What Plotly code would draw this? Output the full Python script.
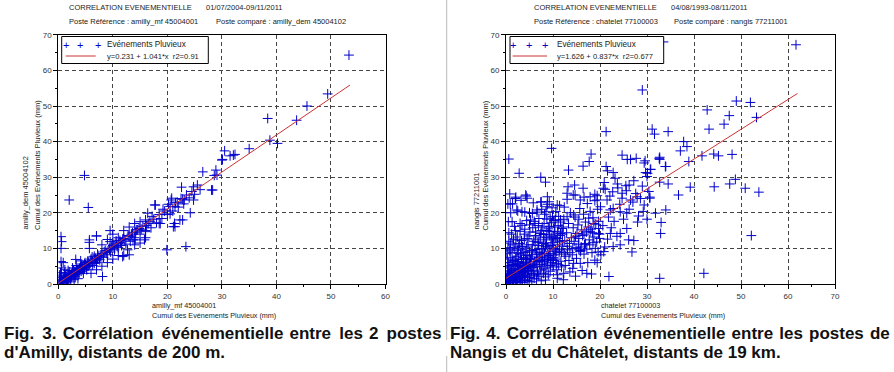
import plotly.graph_objects as go

W, H = 894, 372

# ---------------- DATA ----------------
axis_ticks = [0, 10, 20, 30, 40, 50, 60, 70]

# Fig.3 Amilly (x: amilly_mf 45004001, y: amilly_dem 45004102)
amilly_low = [
    (0.3, 0.5), (0.5, 1.2), (0.8, 0.4), (1.0, 1.5), (1.2, 0.8), (1.5, 2.0), (1.7, 1.1), (2.0, 2.5),
    (2.2, 1.6), (2.5, 3.0), (2.7, 2.2), (3.0, 3.5), (3.2, 2.6), (3.5, 4.0), (3.8, 3.1), (4.0, 4.6),
    (4.2, 3.6), (4.5, 5.0), (4.8, 4.2), (5.0, 5.5), (0.2, 2.5), (0.4, 3.2), (0.6, 2.0), (1.1, 3.0),
    (1.4, 0.3), (2.3, 0.6), (2.9, 1.2), (3.6, 1.5), (1.8, 3.8), (2.6, 4.5), (3.3, 5.2), (4.1, 6.5),
    (4.6, 3.0), (5.2, 4.0), (0.9, 6.0), (0.5, 6.3), (0.6, 4.5), (1.3, 2.2), (1.9, 1.4), (2.4, 2.0),
    (3.1, 2.0), (3.9, 4.0), (4.4, 4.4), (5.4, 5.0), (0.2, 0.2), (0.7, 0.9), (1.6, 1.4), (2.1, 3.4),
    (3.2, 6.9), (2.8, 3.8), (3.4, 3.0), (4.3, 5.6), (4.9, 6.0), (5.6, 5.0), (0.4, 1.8), (1.2, 4.0),
]
amilly_core = [
    (0.3, 1.0), (0.6, 0.7), (0.9, 1.3), (1.2, 1.9), (1.5, 1.2), (1.8, 2.4), (2.1, 1.9), (2.4, 2.7),
    (2.7, 3.2), (3.0, 2.5), (3.3, 3.9), (3.6, 3.3), (3.9, 4.3), (4.2, 4.9), (4.5, 4.0), (4.8, 5.6),
    (5.1, 4.7), (5.4, 6.3), (5.7, 5.6), (6.0, 7.0), (6.3, 6.2), (6.6, 7.8), (6.9, 6.5), (7.2, 8.4),
    (7.5, 7.3),
]
amilly_band = [
    (5.5, 6.0), (6.0, 6.5), (6.3, 5.2), (6.8, 7.2), (7.0, 6.0), (7.3, 8.0), (7.6, 6.8), (8.0, 8.6),
    (8.3, 7.5), (8.6, 9.4), (9.0, 8.2), (9.3, 10.0), (9.6, 9.0), (10.0, 10.8), (10.3, 9.6), (10.6, 11.5),
    (11.0, 10.2), (11.3, 12.2), (11.6, 10.8), (12.0, 12.8), (12.4, 11.2), (12.8, 13.6), (13.2, 12.0),
    (13.6, 14.4), (14.0, 13.0), (14.5, 15.2), (15.0, 14.0), (15.5, 16.2), (16.0, 15.0), (16.5, 17.0),
    (17.0, 15.8), (17.5, 18.2), (18.0, 17.2), (18.5, 19.5), (19.0, 18.4), (19.5, 20.5), (20.0, 19.5),
    (20.5, 21.8), (21.0, 20.5), (21.5, 22.8), (22.0, 21.6), (22.5, 24.0), (23.0, 22.5), (23.5, 25.0),
    (24.0, 24.2), (24.5, 26.0), (25.0, 25.2), (25.5, 27.8), (26.0, 26.5),
    (6.2, 7.6), (6.6, 5.8), (7.2, 7.0), (7.8, 7.8), (8.4, 9.0), (8.8, 8.8), (9.4, 9.6), (9.8, 10.4),
    (10.2, 11.2), (10.8, 10.6), (11.4, 11.6), (11.8, 12.6), (12.2, 12.4), (13.0, 13.4), (13.4, 14.0),
    (14.2, 14.6), (14.8, 15.6), (15.2, 15.4), (16.2, 16.4), (16.8, 17.6), (7.0, 13.5), (8.0, 11.0),
    (9.0, 12.5), (10.0, 14.0), (11.0, 13.0), (12.0, 15.0), (13.0, 16.0), (14.0, 17.0), (15.0, 17.5),
    (16.0, 18.0), (6.0, 3.0), (7.0, 4.0), (8.0, 5.0), (9.0, 6.0), (10.0, 7.0), (11.0, 8.0), (12.0, 8.0),
    (13.0, 8.2), (14.0, 11.0), (15.0, 11.5), (16.0, 13.0), (8.1, 2.1), (11.8, 7.7), (12.7, 9.6),
    (13.7, 12.4), (14.3, 15.2), (15.8, 12.4), (16.0, 14.7), (16.4, 19.9), (17.8, 22.2), (18.5, 17.0),
    (5.7, 12.4), (5.7, 11.7), (7.0, 13.5), (9.5, 15.0), (10.6, 12.1), (5.7, 10.0), (9.5, 11.9),
    (14.1, 12.4), (18.7, 17.0), (17.2, 19.0), (19.2, 21.0), (20.2, 22.4), (21.8, 23.0), (22.8, 23.8),
]
amilly_high = [
    (53.3, 64.3), (49.4, 53.4), (45.6, 50.0), (43.7, 46.0), (38.4, 46.5), (38.8, 40.4), (40.2, 39.5),
    (35.0, 38.0), (30.5, 37.4), (30.1, 35.0), (31.5, 36.0), (32.1, 36.2), (32.4, 36.4), (28.9, 32.0),
    (28.6, 30.5), (28.3, 26.4), (26.5, 31.5), (4.8, 30.5), (2.0, 23.6), (5.5, 21.5), (0.5, 13.3),
    (0.6, 11.9), (0.5, 10.0), (21.1, 16.1), (19.9, 9.6), (23.4, 10.5), (17.7, 22.2), (22.6, 27.2),
    (24.8, 27.3), (24.8, 23.6), (23.1, 23.6), (20.8, 24.1), (21.4, 21.7), (20.5, 19.7), (22.3, 18.0),
    (21.3, 17.0), (21.4, 16.1), (22.8, 18.0), (24.2, 20.0), (28.1, 26.4), (29.1, 30.6), (30.0, 34.8),
    (20.7, 23.6),
]
amilly_line_x = [0.0, 53.5]
amilly_line_y = [0.23, 55.9]

# Fig.4 Nangis / Châtelet (x: chatelet 77100003, y: nangis 77211001)
nangis_dense = [
    (0.2, 0.3), (0.4, 1.1), (0.6, 0.5), (0.8, 1.8), (1.0, 0.9), (1.2, 2.6), (1.4, 1.4), (1.6, 0.4),
    (1.8, 3.2), (2.0, 1.9), (2.2, 0.8), (2.4, 2.9), (2.6, 4.1), (2.8, 1.5), (3.0, 3.6), (3.2, 0.6),
    (3.4, 2.4), (3.6, 5.0), (3.8, 3.1), (4.0, 1.2), (4.2, 4.4), (4.4, 6.2), (4.6, 2.2), (4.8, 3.8),
    (5.0, 5.6), (0.3, 4.5), (0.5, 6.0), (0.7, 3.0), (0.9, 7.5), (1.1, 5.2), (1.3, 8.8), (1.5, 4.0),
    (1.7, 6.6), (1.9, 10.2), (2.1, 5.5), (2.3, 7.8), (2.5, 9.5), (2.7, 6.3), (2.9, 11.4), (3.1, 8.2),
    (3.3, 6.9), (3.5, 10.5), (3.7, 7.4), (3.9, 12.6), (4.1, 9.0), (4.3, 5.6), (4.5, 8.0), (4.7, 11.0),
    (4.9, 13.5), (5.1, 7.1), (5.3, 2.5), (5.5, 9.4), (5.7, 4.6), (5.9, 12.0), (6.1, 6.3), (6.3, 14.6),
    (6.5, 8.4), (6.7, 3.4), (6.9, 10.8), (7.1, 5.5), (7.3, 13.2), (7.5, 7.6), (7.7, 16.0), (7.9, 9.8),
    (8.1, 4.2), (8.3, 12.4), (8.5, 6.8), (8.7, 15.0), (8.9, 10.4), (9.1, 8.0), (9.3, 13.8), (9.5, 5.2),
    (9.7, 17.2), (9.9, 11.6), (10.1, 7.4), (10.3, 14.8), (10.5, 9.6), (10.7, 4.0), (10.9, 12.8),
    (11.1, 16.4), (11.3, 8.8), (11.5, 13.6), (11.7, 6.4), (11.9, 15.6), (12.1, 10.6), (12.3, 18.2),
    (12.5, 12.2), (12.7, 7.8), (12.9, 14.4), (13.1, 9.6), (13.3, 17.0), (13.5, 11.4), (13.7, 20.0),
    (13.9, 13.0), (14.1, 8.2), (14.3, 15.8), (14.5, 12.0), (14.7, 18.8), (14.9, 10.2), (15.1, 14.2),
    (15.3, 16.6), (15.5, 12.8), (15.7, 21.2), (15.9, 9.4), (16.1, 15.2), (16.3, 13.6), (16.5, 19.6),
    (16.7, 11.0), (16.9, 17.4), (17.1, 14.6), (17.3, 22.6), (17.5, 16.0), (17.7, 12.4), (17.9, 20.4),
    (18.1, 15.4), (18.3, 8.8), (18.5, 18.6), (18.7, 13.2), (18.9, 23.4), (19.1, 16.8), (19.3, 11.8),
    (19.5, 21.0), (19.7, 17.6), (19.9, 14.0),
    (0.1, 1.5), (0.3, 2.2), (0.5, 3.4), (0.7, 1.0), (0.9, 2.6), (1.1, 3.8), (1.3, 1.7), (1.5, 5.5),
    (1.7, 2.3), (1.9, 4.3), (2.1, 3.0), (2.3, 1.1), (2.5, 5.8), (2.7, 3.4), (2.9, 2.0), (3.1, 4.9),
    (3.3, 3.9), (3.5, 1.8), (3.7, 6.0), (3.9, 4.5), (4.1, 2.8), (4.3, 7.2), (4.5, 3.6), (4.7, 5.3),
    (4.9, 0.8), (5.2, 6.8), (5.4, 3.7), (5.6, 8.2), (5.8, 5.1), (6.0, 1.6), (6.2, 9.7), (6.4, 4.8),
    (6.6, 7.0), (6.8, 2.6), (7.0, 11.8), (7.2, 8.8), (7.4, 3.9), (7.6, 10.0), (7.8, 6.2), (8.0, 13.9),
    (8.2, 8.6), (8.4, 2.0), (8.6, 11.2), (8.8, 7.0), (9.0, 15.5), (9.2, 9.2), (9.4, 3.6), (9.6, 12.9),
    (9.8, 6.0), (10.0, 10.0), (10.2, 17.8), (10.4, 8.2), (10.6, 13.0), (10.8, 5.8), (11.0, 11.0),
    (11.2, 19.0), (11.4, 9.8), (11.6, 14.2), (11.8, 4.8), (12.0, 12.0),
    (0.2, 8.5), (0.4, 10.2), (0.6, 12.0), (0.8, 9.3), (1.0, 11.5), (1.2, 14.0), (1.6, 12.6), (2.0, 15.0),
    (2.4, 13.2), (3.0, 14.8), (3.4, 16.5), (4.0, 15.4), (4.4, 17.8), (5.0, 16.6), (5.6, 19.8), (6.0, 17.6),
    (6.6, 20.2), (7.0, 18.4), (7.6, 21.0), (8.2, 19.6), (0.5, 17.5), (1.0, 20.0), (1.4, 22.5), (2.5, 20.5),
    (3.2, 23.5), (4.0, 20.2), (0.4, 22.5), (2.0, 24.0), (5.8, 22.8), (7.4, 23.0), (8.8, 22.4), (9.8, 21.4),
    (10.6, 20.4), (11.4, 22.0), (12.4, 21.6), (13.0, 23.8),
    (12.6, 5.2), (13.4, 6.6), (14.2, 4.4), (15.0, 7.2), (15.8, 5.8), (16.6, 8.4), (17.4, 6.0), (14.8, 2.2),
    (13.6, 3.4), (16.2, 3.8), (12.2, 1.2), (11.0, 2.6), (19.4, 6.0), (20.2, 8.2), (21.0, 10.4), (21.6, 12.6),
    (22.4, 15.8), (23.0, 17.6), (23.6, 13.4), (21.8, 18.8), (20.6, 16.4), (22.8, 21.2), (24.2, 22.4),
    (25.0, 18.2), (26.2, 21.0), (27.0, 23.0), (27.6, 25.4), (28.6, 24.0), (25.6, 26.2), (23.8, 27.0),
    (29.4, 22.2), (28.0, 17.4), (27.2, 12.2), (26.8, 9.0), (29.2, 20.4), (30.4, 26.0), (30.0, 30.2),
]
nangis_core = [
    (0.5, 0.8), (1.0, 0.3), (1.5, 1.0), (2.0, 0.5), (2.5, 1.3), (3.0, 0.9), (3.5, 0.4), (4.0, 2.0),
    (4.5, 1.0), (5.0, 1.8), (5.5, 0.6), (6.0, 2.8), (6.5, 1.4), (7.0, 2.2), (7.5, 0.9), (8.0, 3.0),
    (8.5, 4.5), (9.0, 2.6), (9.5, 7.0), (10.0, 4.8), (0.6, 2.8), (1.2, 3.4), (1.8, 2.0), (2.4, 4.8),
    (3.0, 5.2), (3.6, 3.4), (4.2, 6.8), (4.8, 4.8), (5.4, 7.6), (6.0, 5.6), (6.6, 9.0), (7.2, 6.6),
    (7.8, 8.2), (8.4, 10.6), (9.0, 7.6), (9.6, 10.8), (10.2, 12.4), (10.8, 9.2), (11.4, 11.8), (12.0, 14.0),
    (0.8, 5.0), (1.4, 6.2), (2.0, 7.0), (2.6, 8.6), (3.2, 9.8), (3.8, 8.8), (4.4, 10.4), (5.0, 9.0),
    (5.6, 11.0), (6.2, 12.6), (6.8, 11.6), (7.4, 14.2), (8.0, 11.4), (8.6, 13.0), (9.2, 14.8), (9.8, 13.4),
    (10.4, 16.0), (11.0, 14.6), (11.6, 17.4), (12.2, 16.0), (0.3, 7.0), (0.9, 9.8), (1.5, 11.0), (2.1, 12.4),
    (2.7, 10.6), (3.3, 12.2), (3.9, 14.0), (4.5, 12.8), (5.1, 14.6), (5.7, 15.8), (6.3, 13.6), (6.9, 16.4),
    (7.5, 15.0), (8.1, 17.0), (8.7, 18.2), (9.3, 16.2), (9.9, 19.0), (10.5, 18.0), (0.6, 14.4), (1.8, 16.2),
    (2.2, 2.2), (2.8, 2.8), (3.4, 4.6), (4.0, 3.4), (4.6, 4.0), (5.2, 5.2), (5.8, 3.0), (6.4, 6.2),
    (7.0, 7.4), (7.6, 5.0), (8.2, 6.4), (8.8, 5.6), (9.4, 8.6), (10.0, 6.6), (10.6, 7.0), (11.2, 5.4),
    (11.8, 9.0), (12.4, 8.4), (13.0, 10.6), (13.6, 8.8), (14.2, 10.0), (14.8, 13.4), (15.4, 11.2),
    (16.0, 10.4), (16.6, 14.0), (17.2, 9.8), (17.8, 11.0), (18.4, 14.4), (19.0, 10.0), (19.6, 9.0),
]
nangis_scatter = [
    (0.8, 25.3), (2.0, 24.1), (4.3, 24.7), (4.5, 24.1), (0.9, 22.5), (2.3, 20.8), (3.4, 20.3),
    (5.0, 20.0), (6.6, 20.8), (7.5, 23.1), (9.2, 23.1), (10.9, 22.2), (8.7, 21.7), (8.5, 20.3),
    (1.3, 17.5), (3.0, 17.0), (5.2, 18.0), (6.2, 17.0), (9.4, 18.5), (11.6, 18.0), (13.0, 18.9),
    (14.4, 19.4), (15.5, 18.2), (17.6, 18.5), (18.7, 17.0), (13.0, 25.5), (14.7, 25.0), (15.8, 23.6),
    (17.9, 24.5), (19.4, 23.6), (21.5, 23.6), (21.1, 26.6), (22.7, 25.9), (24.7, 24.1), (26.5, 23.6),
    (20.1, 21.7), (22.2, 20.8), (24.3, 20.3), (25.7, 19.9), (28.2, 19.1), (25.7, 15.6), (24.3, 14.2),
    (22.2, 14.2), (19.9, 12.8), (20.8, 9.1), (22.8, 10.5), (24.3, 11.0), (26.1, 12.4), (18.9, 6.7),
    (17.2, 3.0), (18.2, 2.8), (21.9, 2.1), (19.7, 14.2), (18.5, 11.6), (16.9, 11.4), (15.5, 9.6),
    (15.8, 9.1), (14.4, 5.8), (12.3, 3.0), (10.9, 1.6), (8.4, 1.1), (19.7, 15.6), (17.9, 14.8),
    (29.0, 54.5), (21.3, 42.8), (9.7, 38.1), (0.6, 35.1), (18.1, 36.5), (17.7, 34.4), (16.4, 33.1),
    (13.3, 32.0), (2.8, 31.1), (7.4, 30.0), (8.4, 28.6), (21.3, 33.0), (21.6, 31.8), (22.8, 31.3),
    (24.7, 36.2), (25.8, 35.0), (26.5, 35.0), (27.7, 35.3), (29.6, 34.6), (29.4, 34.0), (30.8, 32.2),
    (29.7, 31.3), (30.1, 31.1), (23.2, 29.7), (20.9, 28.5), (23.7, 28.1), (27.2, 29.0), (26.2, 27.8),
    (25.5, 27.6), (29.0, 27.5), (13.2, 27.3), (14.6, 27.8), (16.4, 26.9), (20.7, 26.9), (14.3, 25.0),
    (16.6, 24.4), (2.1, 24.4), (4.2, 25.0), (8.8, 24.5), (18.9, 25.2), (19.4, 24.8), (22.1, 24.7),
    (24.7, 25.5), (27.9, 24.5), (30.6, 24.4),
    (49.0, 51.4), (42.8, 48.9), (47.5, 47.3), (46.4, 44.9), (53.3, 46.8), (43.2, 43.5), (31.1, 43.5),
    (31.6, 42.1), (34.5, 42.8), (37.8, 40.0), (38.5, 38.6), (37.1, 37.4), (41.7, 36.0), (44.2, 36.5),
    (45.2, 36.0), (48.1, 36.4), (38.9, 34.4), (32.7, 35.6), (32.7, 35.0), (33.9, 33.0), (30.7, 32.2),
    (32.7, 28.6), (34.5, 28.1), (39.2, 27.2), (44.3, 27.3), (47.6, 28.1), (48.8, 29.4), (50.9, 26.9),
    (53.8, 25.8), (36.7, 25.0), (30.6, 24.1), (34.0, 20.8), (31.8, 19.9), (33.0, 17.3), (32.9, 14.2),
    (52.2, 13.6), (42.1, 3.0), (32.7, 1.6), (30.0, 18.2), (34.0, 33.0), (32.6, 35.3), (61.7, 67.2),
    (32.0, 68.0), (33.5, 68.0), (52.0, 51.0),
]
nangis_line_x = [0.0, 62.0]
nangis_line_y = [1.6, 53.5]

titles_left = ["CORRELATION EVENEMENTIELLE", "01/07/2004-09/11/2011",
               "Poste Référence : amilly_mf 45004001", "Poste comparé : amilly_dem 45004102"]
titles_right = ["CORRELATION EVENEMENTIELLE", "04/08/1993-08/11/2011",
                "Poste Référence : chatelet 77100003", "Poste comparé : nangis 77211001"]
legend_left = ["Evénements Pluvieux", "y=0.231 + 1.041*x  r2=0.91"]
legend_right = ["Evénements Pluvieux", "y=1.626 + 0.837*x  r2=0.677"]
xlabel_left = ["amilly_mf 45004001", "Cumul des Evénements Pluvieux (mm)"]
ylabel_left = ["amilly_dem 45004102", "Cumul des Evénements Pluvieux (mm)"]
xlabel_right = ["chatelet 77100003", "Cumul des Evénements Pluvieux (mm)"]
ylabel_right = ["nangis 77211001", "Cumul des Evénements Pluvieux (mm)"]
caption_left = ["Fig. 3. Corrélation événementielle entre les 2 postes", "d'Amilly, distants de 200 m."]
caption_right = ["Fig. 4. Corrélation événementielle entre les postes de", "Nangis et du Châtelet, distants de 19 km."]

# ---------------- FIGURE ----------------
def px(x):
    return x / W

def py(y):
    return 1 - y / H

BLUE = "rgb(0,0,205)"
RED = "rgb(205,50,50)"
FONT = "Liberation Sans"

fig = go.Figure()

def add_scatter(points, xa, ya):
    fig.add_trace(go.Scatter(
        x=[p[0] for p in points], y=[p[1] for p in points], mode="markers",
        xaxis=xa, yaxis=ya,
        marker=dict(symbol="cross-thin", size=7, line=dict(width=1, color=BLUE)),
        hoverinfo="skip"))

for pts in (amilly_low, amilly_core, amilly_band, amilly_high):
    add_scatter(pts, "x", "y")
fig.add_trace(go.Scatter(x=amilly_line_x, y=amilly_line_y, mode="lines", xaxis="x", yaxis="y",
                         line=dict(color=RED, width=1)))
for pts in (nangis_dense, nangis_core, nangis_scatter):
    add_scatter(pts, "x2", "y2")
fig.add_trace(go.Scatter(x=nangis_line_x, y=nangis_line_y, mode="lines", xaxis="x2", yaxis="y2",
                         line=dict(color=RED, width=1)))

axis_common = dict(
    showline=True, linecolor="black", linewidth=1, mirror=True,
    ticks="outside", ticklen=4, tickcolor="black", tickwidth=1,
    minor=dict(ticks="outside", ticklen=2, dtick=5, tickcolor="black", showgrid=False),
    showgrid=True, gridcolor="#444", gridwidth=1, griddash="4px,3px",
    zeroline=False, tickfont=dict(family=FONT, size=8, color="#333"),
    tickvals=axis_ticks, fixedrange=True, automargin=False,
)
y_top, y_bot = 34.8, 284.0
fig.update_layout(
    width=W, height=H, margin=dict(l=0, r=0, t=0, b=0, pad=0, autoexpand=False),
    paper_bgcolor="white", plot_bgcolor="white", showlegend=False,
    xaxis=dict(domain=[px(58.3), px(385.5)], range=[0, 60], anchor="y", **axis_common),
    yaxis=dict(domain=[py(y_bot), py(y_top)], range=[0, 70], anchor="x", **axis_common),
    xaxis2=dict(domain=[px(506), px(835)], range=[0, 70], anchor="y2", **axis_common),
    yaxis2=dict(domain=[py(y_bot), py(y_top)], range=[0, 70], anchor="x2", **axis_common),
)

ann = []
shapes = []

def text(x, y, s, size=8, color="#222", xanchor="left", yanchor="middle", angle=0, bold=False, family=FONT):
    ann.append(dict(x=px(x), y=py(y), xref="paper", yref="paper", text=(f"<b>{s}</b>" if bold else s),
                    showarrow=False, xanchor=xanchor, yanchor=yanchor, textangle=angle, borderpad=0,
                    font=dict(family=family, size=size, color=color)))

def panel(ox, titles, leg, legbox, legmk, legline, legtx, xl, xlx, yl, ylx, t2x):
    text(ox + 68, 8, titles[0], size=7.5)
    text(ox + 205, 8, titles[1], size=7.5)
    text(ox + 68, 22, titles[2], size=7.5)
    text(t2x, 22, titles[3], size=7.5)
    # legend box
    shapes.append(dict(type="rect", xref="paper", yref="paper", x0=px(legbox[0]), x1=px(legbox[1]),
                       y0=py(36.5), y1=py(63.5), line=dict(color="black", width=1), fillcolor="white"))
    for mx in legmk:
        text(mx, 44.5, "+", size=11, color=BLUE, xanchor="center")
    shapes.append(dict(type="line", xref="paper", yref="paper", x0=px(legline[0]), x1=px(legline[1]),
                       y0=py(56), y1=py(56), line=dict(color=RED, width=1)))
    text(legtx, 44.5, leg[0], size=8.2)
    text(legtx, 56.5, leg[1], size=7.6)
    # axis titles
    text(xlx, 305, xl[0], size=7.2)
    text(xlx, 315.5, xl[1], size=7.2)
    text(ylx[0], 231, yl[0], size=7.5, angle=-90, xanchor="center", yanchor="bottom")
    text(ylx[1], 231, yl[1], size=7.5, angle=-90, xanchor="center", yanchor="bottom")

panel(0, titles_left, legend_left, (61.7, 208.3), (65.7, 80, 97.7), (65.7, 95.7), 106,
      xlabel_left, 151, ylabel_left, (25, 37), 215)
panel(464.5, titles_right, legend_right, (510, 663.7), (512.7, 528.7, 545.3), (512.7, 547), 556,
      xlabel_right, 600, ylabel_right, (476, 484.5), 673)

# captions (first lines justified with extra narrow spaces, as in the reference)
def justify(s, gaps):
    words = s.split(" ")
    out = words[0]
    for i, w in enumerate(words[1:]):
        out += " " + gaps[i % len(gaps)] + w
    return out

CAP = 17
THIN, HAIR = "\u2009", "\u200a"
text(3, 333, justify(caption_left[0], [THIN, HAIR]), size=CAP, color="#111", bold=True)
text(3, 352, caption_left[1], size=CAP, color="#111", bold=True)
text(449, 333, justify(caption_right[0], [HAIR]), size=CAP, color="#111", bold=True)
text(449, 352, caption_right[1], size=CAP, color="#111", bold=True)

# separator
shapes.append(dict(type="line", xref="paper", yref="paper", x0=px(446.7), x1=px(446.7), y0=py(0), y1=py(340),
                   line=dict(color="#bbb", width=1)))
shapes.append(dict(type="line", xref="paper", yref="paper", x0=px(446.7), x1=px(446.7), y0=py(356), y1=py(372),
                   line=dict(color="#bbb", width=1)))

fig.update_layout(annotations=ann, shapes=shapes)
fig.write_html("out.html", config={"displayModeBar": False},
               post_script="document.body.style.margin='0';document.body.style.overflow='hidden';")
